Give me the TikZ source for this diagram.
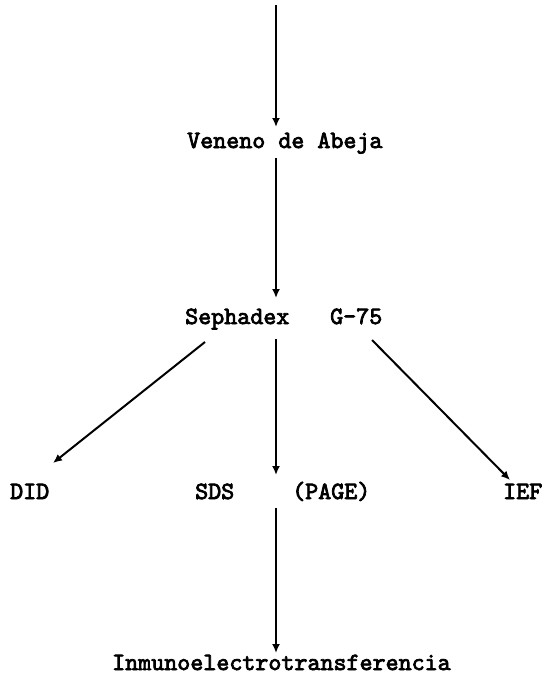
\documentclass[tikz,border=0pt]{standalone}
\usepackage{fontspec}
\newfontfamily\twfont[Extension=.otf,FakeBold=3]{lmmono10-regular}
\usetikzlibrary{arrows.meta}
\begin{document}
\begin{tikzpicture}[x=1pt,y=-1pt,
  lbl/.style={font=\twfont\fontsize{24.8}{28}\selectfont, inner sep=0pt, anchor=base west},
  arr/.style={line width=2pt, -{Latex[length=9pt,width=8pt]}}]
\useasboundingbox (0,0) rectangle (544,680);
\coordinate (top) at (276,5);
\node[lbl] (ven) at (187,148) {Veneno de Abeja};
\node[lbl] (seph) at (185,324) {Sephadex};
\node[lbl] (g75) at (330,324) {G-75};
\node[lbl] (did) at (10,499) {DID};
\node[lbl] (sds) at (195,499) {SDS};
\node[lbl] (page) at (292,499) {(PAGE)};
\node[lbl] (ief) at (503,499) {IEF};
\node[lbl] (inm) at (112,670) {Inmunoelectrotransferencia};
% connectors
\coordinate (venTop) at (276,127);
\coordinate (venBot) at (276,158);
\coordinate (sephTop) at (276,298);
\coordinate (sephL) at (205,342);
\coordinate (sephC) at (276,339);
\coordinate (sephR) at (372,340);
\coordinate (didT) at (53,463);
\coordinate (sdsT) at (276,475);
\coordinate (iefT) at (510,480);
\coordinate (rowB) at (276,508);
\coordinate (inmT) at (276,653);
\draw[arr] (top) -- (venTop);
\draw[arr] (venBot) -- (sephTop);
\draw[arr] (sephL) -- (didT);
\draw[arr] (sephC) -- (sdsT);
\draw[arr] (sephR) -- (iefT);
\draw[arr] (rowB) -- (inmT);
\end{tikzpicture}
\end{document}
